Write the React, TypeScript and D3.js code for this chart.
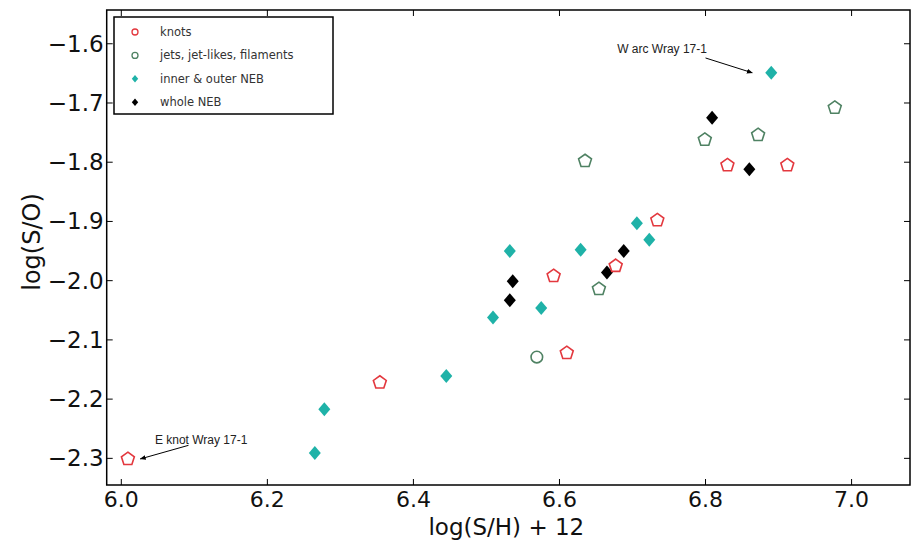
import React from "react";
import * as d3 from "d3";

const knotsX = [6.009, 6.354, 6.61, 6.592, 6.677, 6.734, 6.83, 6.912];
const knotsY = [-2.301, -2.172, -2.122, -1.992, -1.975, -1.898, -1.805, -1.805];

const jetsX = [6.635, 6.569, 6.654, 6.799, 6.872, 6.977];
const jetsY = [-1.798, -2.129, -2.014, -1.762, -1.754, -1.708];
const jetsShape = ["p", "o", "p", "p", "p", "p"];

const innerX = [6.265, 6.278, 6.445, 6.509, 6.575, 6.532, 6.629, 6.706, 6.723, 6.89];
const innerY = [-2.291, -2.217, -2.161, -2.062, -2.046, -1.95, -1.948, -1.903, -1.931, -1.649];

const wholeX = [6.532, 6.536, 6.665, 6.688, 6.809, 6.86];
const wholeY = [-2.033, -2.001, -1.986, -1.95, -1.725, -1.812];

const xTicks = [6.0, 6.2, 6.4, 6.6, 6.8, 7.0];
const yTicks = [-1.6, -1.7, -1.8, -1.9, -2.0, -2.1, -2.2, -2.3];

const legendLabels = ["knots", "jets, jet-likes, filaments", "inner & outer NEB", "whole NEB"];

const annotations = [
  { text: "W arc Wray 17-1", tx: 6.679, ty: -1.616, ax: 6.80, ay: -1.624, bx: 6.864, by: -1.649 },
  { text: "E knot Wray 17-1", tx: 6.046, ty: -2.275, ax: 6.092, ay: -2.278, bx: 6.026, by: -2.301 },
];

const W = 921, H = 541;
const L = 106.7, R = 910, T = 10, B = 485;

const RED = "#e3383e";
const GREEN = "#4f8263";
const CYAN = "#1fb2a8";
const BLACK = "#000";

function pentagon(cx: number, cy: number, r: number) {
  const pts: string[] = [];
  for (let i = 0; i < 5; i++) {
    const a = -Math.PI / 2 + (i * 2 * Math.PI) / 5;
    pts.push(`${cx + r * Math.cos(a)},${cy + r * Math.sin(a)}`);
  }
  return pts.join(" ");
}
function diamond(cx: number, cy: number, rx: number, ry: number) {
  return `${cx},${cy - ry} ${cx + rx},${cy} ${cx},${cy + ry} ${cx - rx},${cy}`;
}

export default function App() {
  const x = d3.scaleLinear().domain([5.98, 7.08]).range([L, R]);
  const y = d3.scaleLinear().domain([-2.345, -1.543]).range([B, T]);
  const font = "'DejaVu Sans', sans-serif";
  const tickLen = 6;

  const openMarker = (px: number, py: number, shape: string, color: string, key: string) =>
    shape === "o" ? (
      <circle key={key} cx={px} cy={py} r={5.8} fill="none" stroke={color} strokeWidth={1.6} />
    ) : (
      <polygon key={key} points={pentagon(px, py, 6.8)} fill="none" stroke={color} strokeWidth={1.6} />
    );

  return (
    <svg width={W} height={H} style={{ position: "absolute", left: 0, top: 0, background: "#fff" }}>
      <defs>
        <marker id="arr" viewBox="0 0 10 10" refX="9" refY="5" markerWidth="6" markerHeight="6" orient="auto">
          <path d="M0,1 L10,5 L0,9 z" fill="#000" />
        </marker>
      </defs>
      {/* axes frame */}
      <rect x={L} y={T} width={R - L} height={B - T} fill="none" stroke="#000" strokeWidth={1.5} />
      {xTicks.map((t) => (
        <g key={"xt" + t}>
          <line x1={x(t)} x2={x(t)} y1={B} y2={B - tickLen} stroke="#000" strokeWidth={1} />
          <line x1={x(t)} x2={x(t)} y1={T} y2={T + tickLen} stroke="#000" strokeWidth={1} />
          <text x={x(t)} y={B + 22} textAnchor="middle" fontFamily={font} fontSize={22} fill="#111">
            {d3.format(".1f")(t)}
          </text>
        </g>
      ))}
      {yTicks.map((t) => (
        <g key={"yt" + t}>
          <line x1={L} x2={L + tickLen} y1={y(t)} y2={y(t)} stroke="#000" strokeWidth={1} />
          <line x1={R} x2={R - tickLen} y1={y(t)} y2={y(t)} stroke="#000" strokeWidth={1} />
          <text x={L - 3} y={y(t) + 8} textAnchor="end" fontFamily={font} fontSize={23} fill="#111">
            {d3.format(".1f")(t).replace("-", "\u2212")}
          </text>
        </g>
      ))}
      <text x={(L + R) / 2 - 2} y={535} textAnchor="middle" fontFamily={font} fontSize={23} fill="#111">
        log(S/H) + 12
      </text>
      <text transform={`translate(40,${242}) rotate(-90)`} textAnchor="middle" fontFamily={font} fontSize={24} fill="#111">
        log(S/O)
      </text>

      {/* data */}
      {innerX.map((v, i) => (
        <polygon key={"c" + i} points={diamond(x(v), y(innerY[i]), 6, 7)} fill={CYAN} />
      ))}
      {wholeX.map((v, i) => (
        <polygon key={"b" + i} points={diamond(x(v), y(wholeY[i]), 6, 7)} fill={BLACK} />
      ))}
      {knotsX.map((v, i) => openMarker(x(v), y(knotsY[i]), "p", RED, "k" + i))}
      {jetsX.map((v, i) => openMarker(x(v), y(jetsY[i]), jetsShape[i], GREEN, "j" + i))}

      {/* annotations */}
      {annotations.map((a, i) => (
        <g key={"an" + i}>
          <text x={x(a.tx)} y={y(a.ty)} fontFamily="'Liberation Sans', sans-serif" fontSize={12} fill="#222">
            {a.text}
          </text>
          <line x1={x(a.ax)} y1={y(a.ay)} x2={x(a.bx)} y2={y(a.by)} stroke="#000" strokeWidth={1} markerEnd="url(#arr)" />
        </g>
      ))}

      {/* legend */}
      <g>
        <rect x={114} y={17} width={219} height={97} fill="#fff" stroke="#000" strokeWidth={1.5} />
        {legendLabels.map((lab, i) => {
          const cy = 32 + i * 23.4;
          const cx = 135;
          let m;
          if (i === 0) m = <circle cx={cx} cy={cy} r={3} fill="none" stroke={RED} strokeWidth={1.3} />;
          else if (i === 1) m = <circle cx={cx} cy={cy} r={3} fill="none" stroke={GREEN} strokeWidth={1.3} />;
          else m = <polygon points={diamond(cx, cy, 3.2, 3.8)} fill={i === 2 ? CYAN : BLACK} />;
          return (
            <g key={"lg" + i}>
              {m}
              <text x={160} y={cy + 4} fontFamily={font} fontSize={11.5} fill="#333">
                {lab}
              </text>
            </g>
          );
        })}
      </g>
    </svg>
  );
}
